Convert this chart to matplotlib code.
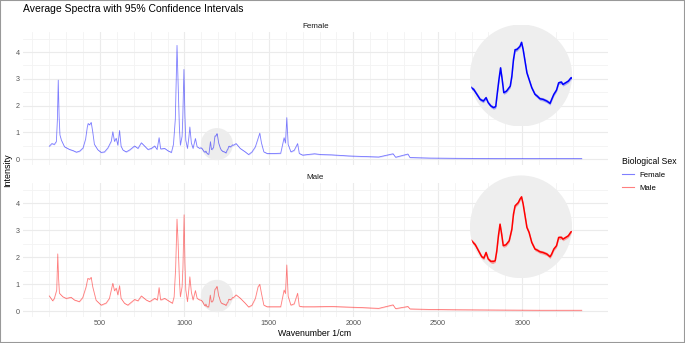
import numpy as np
import matplotlib
matplotlib.use("Agg")
import matplotlib.pyplot as plt
from matplotlib.patches import Circle, Ellipse, Rectangle
from matplotlib.lines import Line2D

plt.rcParams['font.family'] = ['Liberation Sans', 'DejaVu Sans']

# Espectros médios
female_wn = [200, 215, 230, 242, 248, 253, 258, 263, 272, 290, 320, 340, 360, 380, 400, 415, 425, 430,
             438, 448, 457, 467, 487, 507, 527, 547, 567, 576, 586, 596, 606, 616, 625, 636, 655, 675,
             705, 725, 745, 764, 784, 804, 824, 838, 850, 859, 883, 903, 923, 935, 946, 956, 962, 970,
             976, 986, 990, 997, 1003, 1008, 1018, 1026, 1032, 1041, 1051, 1065, 1075, 1091,
             1097, 1104, 1110, 1116, 1122, 1127, 1131, 1136, 1141, 1145, 1148, 1151, 1154, 1157, 1160,
             1165, 1172, 1175, 1178, 1181, 1184, 1187, 1190, 1193, 1196, 1199, 1203, 1207, 1212, 1218,
             1222, 1227, 1233, 1240, 1246, 1249, 1253, 1258, 1262, 1267, 1270, 1277, 1280, 1285,
             1290, 1306, 1330, 1360, 1380, 1400, 1420, 1436, 1446, 1456, 1470, 1490, 1530, 1570, 1580,
             1590, 1598, 1606, 1614, 1630, 1650, 1670, 1680, 1700, 1770, 1810, 1870, 1970, 2050, 2150,
             2235, 2250, 2323, 2335, 2453, 2600, 2849, 3100, 3352]
female_int = [0.48, 0.58, 0.55, 0.66, 1.5, 2.95, 1.6, 0.9, 0.7, 0.46, 0.36, 0.32, 0.26, 0.3, 0.42, 0.75, 1.2, 1.33,
              1.28, 1.37, 1.02, 0.55, 0.35, 0.25, 0.27, 0.42, 0.67, 1.02, 0.66, 0.78, 0.52, 1.07, 0.48, 0.34, 0.27, 0.34,
              0.49, 0.4, 0.61, 0.49, 0.36, 0.4, 0.49, 0.36, 0.8, 0.38, 0.4, 0.31, 0.25, 0.55, 1.5, 4.25, 3.0, 1.2,
              0.52, 0.85, 1.5, 3.35, 1.6, 0.7, 0.4, 0.8, 1.2, 0.6, 0.4, 0.77, 0.46, 0.4,
              0.428, 0.396, 0.338, 0.279, 0.259, 0.299, 0.24, 0.201, 0.182, 0.194, 0.357, 0.513, 0.65, 0.513, 0.357,
              0.376, 0.435, 0.552, 0.747, 0.864, 0.864, 0.884, 0.903, 0.95, 0.864, 0.747, 0.591, 0.513, 0.416, 0.338,
              0.318, 0.287, 0.279, 0.259, 0.232, 0.279, 0.338, 0.388, 0.474, 0.482, 0.455, 0.482, 0.494, 0.533,
              0.52, 0.58, 0.4, 0.27, 0.17, 0.27, 0.46, 0.77, 0.97, 0.6, 0.27, 0.21, 0.21, 0.22, 0.52,
              0.8, 0.6, 1.55, 0.55, 0.27, 0.33, 0.58, 0.21, 0.15, 0.2, 0.17, 0.16, 0.12, 0.1, 0.08,
              0.2, 0.07, 0.19, 0.06, 0.04, 0.03, 0.02, 0.02, 0.02]

male_wn = [200, 220, 230, 244, 250, 255, 260, 280, 300, 329, 349, 378, 398, 418, 428, 438, 448, 457, 477,
           507, 537, 556, 566, 576, 586, 596, 606, 616, 625, 645, 665, 705, 725, 745, 774, 794, 824, 840,
           850, 859, 883, 913, 929, 939, 948, 956, 962, 970, 976, 986, 991, 998, 1003, 1008, 1018, 1026,
           1032, 1041, 1051, 1065, 1075, 1091,
           1096, 1100, 1107, 1113, 1119, 1123, 1127, 1131, 1136, 1141, 1144, 1147, 1150, 1153, 1156, 1159,
           1164, 1170, 1175, 1178, 1181, 1184, 1187, 1190, 1193, 1196, 1199, 1203, 1207, 1212, 1218, 1222,
           1227, 1233, 1240, 1246, 1249, 1253, 1258, 1262, 1267, 1270, 1277, 1280, 1285,
           1290, 1306, 1330, 1360, 1380, 1400, 1420, 1436, 1446, 1456, 1470, 1490, 1530, 1570, 1580,
           1590, 1598, 1606, 1614, 1630, 1650, 1670, 1680, 1700, 1770, 1870, 1970, 2050, 2150,
           2235, 2250, 2323, 2335, 2453, 2600, 2849, 3100, 3352]
male_int = [0.56, 0.38, 0.47, 0.78, 2.12, 1.2, 0.66, 0.53, 0.47, 0.51, 0.41, 0.35, 0.5, 0.9, 1.21, 1.18, 1.25, 0.9, 0.4,
            0.22, 0.3, 0.47, 0.75, 1.03, 0.75, 0.85, 0.6, 0.94, 0.47, 0.29, 0.22, 0.43, 0.38, 0.56, 0.41, 0.35, 0.47, 0.41,
            0.87, 0.41, 0.47, 0.35, 0.29, 0.53, 1.6, 3.41, 2.6, 1.2, 0.53, 0.9, 1.6, 3.57, 1.8, 0.78, 0.35, 0.8,
            1.27, 0.7, 0.41, 0.76, 0.47, 0.41,
            0.41, 0.397, 0.35, 0.28, 0.21, 0.195, 0.26, 0.184, 0.156, 0.156, 0.164, 0.28, 0.455, 0.591, 0.475, 0.339,
            0.35, 0.397, 0.533, 0.708, 0.805, 0.824, 0.843, 0.883, 0.91, 0.824, 0.708, 0.552, 0.494, 0.377, 0.3, 0.288,
            0.269, 0.26, 0.242, 0.21, 0.242, 0.3, 0.339, 0.436, 0.436, 0.416, 0.443, 0.455, 0.502,
            0.5, 0.6, 0.48, 0.29, 0.15, 0.22, 0.47, 0.9, 0.99, 0.65, 0.22, 0.16, 0.16, 0.16, 0.47,
            0.78, 0.65, 1.71, 0.55, 0.22, 0.27, 0.66, 0.18, 0.16, 0.16, 0.17, 0.15, 0.13, 0.1,
            0.23, 0.09, 0.17, 0.08, 0.06, 0.05, 0.04, 0.03, 0.03]

ci_half = 0.02  # meia largura do IC 95%

# região ampliada e posição do círculo de zoom
zoom_center = (1192, 0.56)
zoom_rx, zoom_ry = 95, 0.6
inset_box = [2690, 1.22, 605, 3.81]


def desenhar_painel(ax, wn, vals, cor, titulo, mostra_x):
    wn = np.array(wn)
    vals = np.array(vals)
    ax.set_xlim(42.5, 3507.5)
    ax.set_ylim(-0.22, 4.75)
    ax.set_xticks([500, 1000, 1500, 2000, 2500, 3000])
    ax.set_xticks([w for w in range(100, 3400, 100) if w % 500], minor=True)
    ax.set_yticks([0, 1, 2, 3, 4])
    ax.set_yticks([0.5, 1.5, 2.5, 3.5, 4.5], minor=True)
    ax.grid(True, which='major', color='#EBEBEB', lw=0.8)
    ax.grid(True, which='minor', color='#F3F3F3', lw=0.6)
    ax.set_axisbelow(True)
    for s in ax.spines.values():
        s.set_visible(False)
    ax.tick_params(which='both', length=0, labelsize=5.2, labelcolor='#555555', pad=2,
                   labelbottom=mostra_x)
    # y fixo para o título não fugir do círculo ampliado
    ax.set_title(titulo, fontsize=5.8, color='#1A1A1A', y=1.0, pad=3)

    ax.add_patch(Ellipse(zoom_center, 2 * zoom_rx, 2 * zoom_ry, color='#EDEDED', lw=0, zorder=1))
    ax.fill_between(wn, vals - ci_half, vals + ci_half, color=cor, alpha=0.15, lw=0, zorder=2)
    ax.plot(wn, vals, color=cor, alpha=0.5, lw=0.6, zorder=3)

    # ampliação dentro do círculo
    ins = ax.inset_axes(inset_box, transform=ax.transData)
    ins.set_axis_off()
    ins.set_xlim(zoom_center[0] - zoom_rx, zoom_center[0] + zoom_rx)
    ins.set_ylim(zoom_center[1] - zoom_ry, zoom_center[1] + zoom_ry)
    circ = Circle((0.5, 0.5), 0.5, transform=ins.transAxes, color='#EEEEEE', lw=0)
    ins.add_patch(circ)
    sel = (wn >= zoom_center[0] - zoom_rx - 10) & (wn <= zoom_center[0] + zoom_rx + 10)
    banda = ins.fill_between(wn[sel], vals[sel] - ci_half, vals[sel] + ci_half, color=cor, alpha=0.3, lw=0)
    banda.set_clip_path(circ)
    linha, = ins.plot(wn[sel], vals[sel], color=cor, lw=1.1)
    linha.set_clip_path(circ)


fig = plt.figure(figsize=(6.85, 3.43), dpi=100)
ax_top = fig.add_axes([22.7 / 685, 1 - 165 / 343, 585.3 / 685, 133 / 343])
ax_bot = fig.add_axes([22.7 / 685, 1 - 317 / 343, 585.3 / 685, 134 / 343])

desenhar_painel(ax_top, female_wn, female_int, 'blue', 'Female', False)
desenhar_painel(ax_bot, male_wn, male_int, 'red', 'Male', True)

fig.text(23 / 685, 1 - 9 / 343, 'Average Spectra with 95% Confidence Intervals', fontsize=7.5, va='center')
fig.text(8 / 685, 1 - 170 / 343, 'Intensity', rotation=90, fontsize=6.5, va='center', ha='center')
fig.text(315 / 685, 1 - 333 / 343, 'Wavenumber 1/cm', fontsize=6.3, va='center', ha='center')

handles = [Line2D([], [], color='blue', alpha=0.5, lw=0.8), Line2D([], [], color='red', alpha=0.5, lw=0.8)]
leg = fig.legend(handles, ['Female', 'Male'], loc='upper left', bbox_to_anchor=(618 / 685, 1 - 153 / 343),
                 frameon=False, title='Biological Sex', fontsize=5.6, title_fontsize=6.2,
                 handlelength=1.5, borderpad=0, labelspacing=0.7, alignment='left')

fig.add_artist(Rectangle((0, 0), 1, 1, transform=fig.transFigure, fill=False, edgecolor='#999999', lw=1.5))

fig.savefig('out.png', dpi=100)
